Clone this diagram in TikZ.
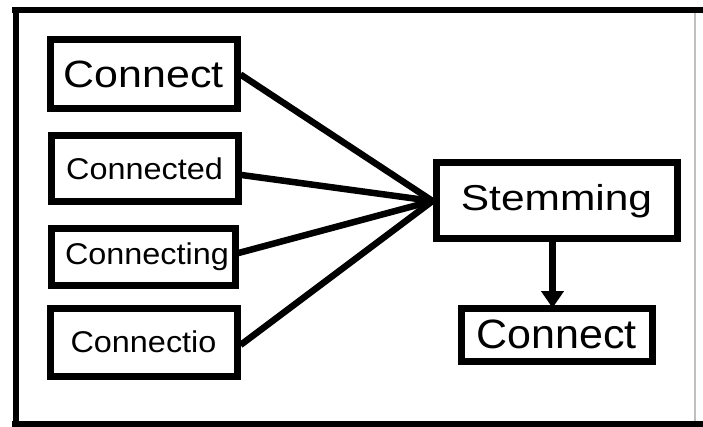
\documentclass[tikz,border=0pt]{standalone}
\usepackage{fontspec}
\setmainfont{Liberation Sans}
\newfontfamily\fa[FakeStretch=1.08]{Liberation Sans}
\newfontfamily\fb[FakeStretch=1.13]{Liberation Sans}
\newfontfamily\fc[FakeStretch=1.18]{Liberation Sans}
\newfontfamily\fd[FakeStretch=1.05]{Liberation Sans}
\usetikzlibrary{arrows.meta}
\tikzset{
  wordbox/.style={draw=black, line width=7pt, fill=white, inner sep=0pt, rectangle, align=center},
  link/.style={line width=6.5pt, black},
  frameline/.style={line width=6.5pt, black}
}
\begin{document}
\begin{tikzpicture}[x=1pt, y=-1pt]
\useasboundingbox (0,0) rectangle (703,427);
% frame
\draw[frameline] (12,10) -- (703,10);
\draw[frameline] (16,7) -- (16,427);
\draw[frameline] (12,424.5) -- (703,424.5);
\draw[black!25, line width=1.5pt] (695,13) -- (695,421);
% nodes
\node[wordbox, minimum width=187pt, minimum height=69pt, font={\fb\fontsize{38}{44}\selectfont}] (w1) at (143.5,74.5) {Connect};
\node[wordbox, minimum width=187pt, minimum height=66pt, font={\fa\fontsize{30}{36}\selectfont}] (w2) at (144.5,169) {Connected};
\node[wordbox, minimum width=184pt, minimum height=56pt, font={\fa\fontsize{30}{36}\selectfont}] (w3) at (143,257) {\hspace*{8pt}Connecting};
\node[wordbox, minimum width=187pt, minimum height=68pt, font={\fa\fontsize{30}{36}\selectfont}] (w4) at (143.5,342) {Connectio};
\node[wordbox, minimum width=241pt, minimum height=76pt, font={\fc\fontsize{36}{42}\selectfont}] (stem) at (556.5,201) {Stemming};
\node[wordbox, minimum width=191pt, minimum height=53pt, font={\fd\fontsize{41}{48}\selectfont}] (out) at (556.5,334.5) {Connect};
% connectors
\draw[link] (w1.east) -- (stem.west);
\draw[link] ([yshift=-6pt]w2.east) -- (stem.west);
\draw[link] ([yshift=4pt]w3.east) -- (stem.west);
\draw[link] ([yshift=-3pt]w4.east) -- (stem.west);
\draw[link, -{Triangle[width=22pt,length=17pt]}, shorten >=-3.5pt] ([xshift=-4pt]stem.south) -- ([xshift=-4pt]out.north);
\end{tikzpicture}
\end{document}
